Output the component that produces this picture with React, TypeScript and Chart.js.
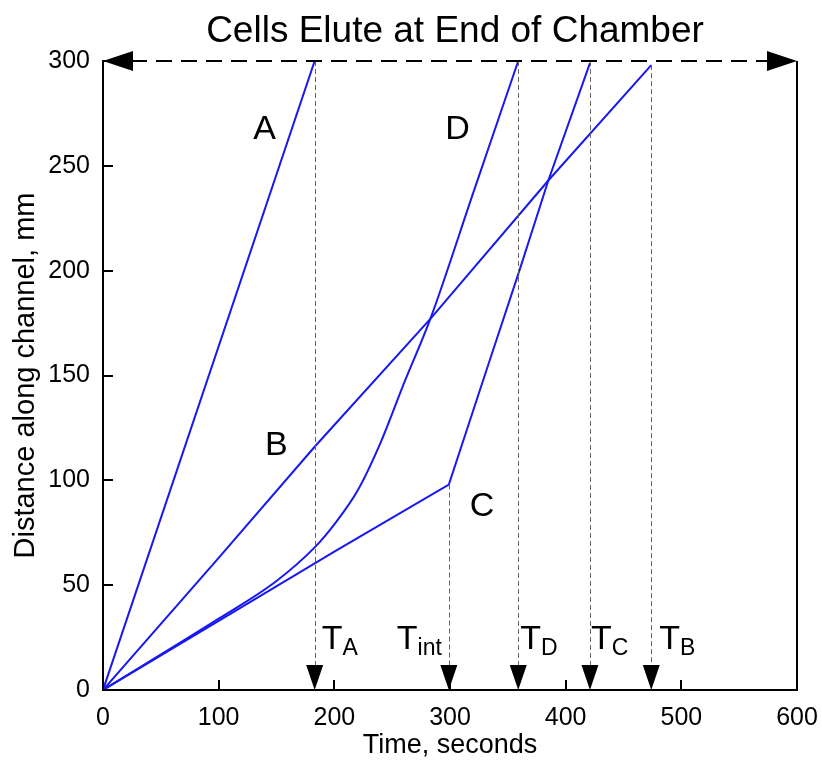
import React, { useEffect, useRef } from 'react';
import { Chart, registerables } from 'chart.js';

Chart.register(...registerables);

const titleText = 'Cells Elute at End of Chamber';
const xTitle = 'Time, seconds';
const yTitle = 'Distance along channel, mm';

const xTicks = [0, 100, 200, 300, 400, 500, 600];
const yTicks = [0, 50, 100, 150, 200, 250, 300];

const timeA = [0, 183];
const distA = [0, 300];
const timeB = [0, 100, 183, 283, 385, 474];
const distB = [0, 63, 116, 177, 243, 298];
const timeC = [0, 100, 200, 299, 330, 360, 385, 421];
const distC = [0, 33, 66, 98, 150, 200, 243, 299];
const timeD = [0, 100, 150, 183, 200, 220, 240, 260, 283, 320, 359];
const distD = [0, 34, 52, 68, 79, 95, 118, 146, 177, 237, 300];

const chamberEnd = 300;
const eventTimes = [183, 299, 359, 421, 474];
const eventStart = [300, 98, 300, 300, 298];
const eventSubs = ['A', 'int', 'D', 'C', 'B'];

const curveNames = ['A', 'B', 'C', 'D'];
// annotation anchor points (data units)
const curveLabelAt: [number, number][] = [[130, 263], [140, 112], [317, 83], [296, 263]];
const eventLabelDx = [7, -7, 2, 1, 8];

const FONT = "'Liberation Sans', Arial, Helvetica, sans-serif";
const BLUE = 'rgb(24,24,240)';

const zip = (xs: number[], ys: number[]) => xs.map((v, i) => ({ x: v, y: ys[i] }));

const annotations = {
  id: 'annotations',
  afterDatasetsDraw(chart: any) {
    const { ctx, scales } = chart;
    const x = scales.x;
    const y = scales.y;
    const y0 = y.getPixelForValue(0);
    const yTop = y.getPixelForValue(chamberEnd);
    const xL = x.getPixelForValue(0);
    const xR = x.getPixelForValue(600);
    ctx.save();

    // vertical dashed guide lines
    ctx.strokeStyle = '#666';
    ctx.lineWidth = 1;
    ctx.setLineDash([5, 3]);
    eventTimes.forEach((t, i) => {
      const px = Math.round(x.getPixelForValue(t)) + 0.5;
      ctx.beginPath();
      ctx.moveTo(px, y.getPixelForValue(eventStart[i]));
      ctx.lineTo(px, y0 - 20);
      ctx.stroke();
    });

    // top dashed line
    ctx.strokeStyle = '#000';
    ctx.lineWidth = 2;
    ctx.setLineDash([16, 9]);
    ctx.beginPath();
    ctx.moveTo(xL + 28, yTop);
    ctx.lineTo(xR - 28, yTop);
    ctx.stroke();
    ctx.setLineDash([]);

    // right border
    ctx.beginPath();
    ctx.moveTo(xR, yTop);
    ctx.lineTo(xR, y0);
    ctx.stroke();

    ctx.fillStyle = '#000';
    // side arrows
    ctx.beginPath();
    ctx.moveTo(xL, yTop);
    ctx.lineTo(xL + 30, yTop - 10);
    ctx.lineTo(xL + 30, yTop + 10);
    ctx.closePath();
    ctx.fill();
    ctx.beginPath();
    ctx.moveTo(xR, yTop);
    ctx.lineTo(xR - 30, yTop - 10);
    ctx.lineTo(xR - 30, yTop + 10);
    ctx.closePath();
    ctx.fill();

    // down arrows + labels
    eventTimes.forEach((t, i) => {
      const px = x.getPixelForValue(t);
      ctx.beginPath();
      ctx.moveTo(px, y0);
      ctx.lineTo(px - 8.5, y0 - 25);
      ctx.lineTo(px + 8.5, y0 - 25);
      ctx.closePath();
      ctx.fill();

      ctx.textBaseline = 'alphabetic';
      ctx.textAlign = 'left';
      ctx.font = `34px ${FONT}`;
      const wT = ctx.measureText('T').width;
      ctx.font = `23px ${FONT}`;
      const wS = ctx.measureText(eventSubs[i]).width;
      const dx = eventLabelDx[i];
      const start = dx < 0 ? px + dx - wT - wS : px + dx;
      ctx.font = `34px ${FONT}`;
      ctx.fillText('T', start, y0 - 41);
      ctx.font = `23px ${FONT}`;
      ctx.fillText(eventSubs[i], start + wT, y0 - 35);
    });

    // curve labels
    ctx.font = `34px ${FONT}`;
    curveNames.forEach((n, i) => {
      const [lx, ly] = curveLabelAt[i];
      ctx.fillText(n, x.getPixelForValue(lx), y.getPixelForValue(ly));
    });

    // inward ticks
    ctx.lineWidth = 2;
    xTicks.forEach((v) => {
      const px = Math.round(x.getPixelForValue(v));
      ctx.beginPath();
      ctx.moveTo(px, y0);
      ctx.lineTo(px, y0 - 10);
      ctx.stroke();
    });
    yTicks.forEach((v) => {
      const py = Math.round(y.getPixelForValue(v));
      ctx.beginPath();
      ctx.moveTo(xL, py);
      ctx.lineTo(xL + 10, py);
      ctx.stroke();
    });

    // title
    ctx.font = `37px ${FONT}`;
    ctx.textAlign = 'center';
    ctx.fillText(titleText, (chart.chartArea.left + chart.chartArea.right) / 2 + 5, 42);
    ctx.restore();
  },
};

export default function App() {
  const ref = useRef<HTMLCanvasElement>(null);
  useEffect(() => {
    if (!ref.current) return;
    const line = (xs: number[], ys: number[], smooth = false) => ({
      data: zip(xs, ys),
      showLine: true,
      borderColor: BLUE,
      backgroundColor: BLUE,
      borderWidth: 2,
      pointRadius: 0,
      tension: smooth ? 0.4 : 0,
      cubicInterpolationMode: smooth ? 'monotone' : 'default',
      fill: false,
    });
    const chart = new Chart(ref.current, {
      type: 'scatter',
      data: {
        datasets: [line(timeA, distA), line(timeB, distB), line(timeC, distC), line(timeD, distD, true)],
      },
      options: {
        responsive: false,
        animation: false,
        devicePixelRatio: 1,
        layout: { padding: { top: 61, right: 25, left: 0, bottom: 0 } },
        plugins: { legend: { display: false }, title: { display: false }, tooltip: { enabled: false } },
        scales: {
          x: {
            type: 'linear',
            min: 0,
            max: 600,
            afterFit: (s: any) => { s.height = 72; s.paddingLeft = 0; s.paddingRight = 0; },
            afterBuildTicks: (s: any) => { s.ticks = xTicks.map((v) => ({ value: v })); },
            grid: { display: false, drawTicks: false },
            border: { display: true, color: '#000', width: 2 },
            ticks: { color: '#000', font: { family: FONT, size: 25 }, padding: 13, maxRotation: 0 },
            title: { display: true, text: xTitle, color: '#000', font: { family: FONT, size: 27 }, padding: { top: 0, bottom: 0 } },
          },
          y: {
            type: 'linear',
            min: 0,
            max: 300,
            afterFit: (s: any) => { s.width = 103; s.paddingTop = 0; s.paddingBottom = 0; },
            afterBuildTicks: (s: any) => { s.ticks = yTicks.map((v) => ({ value: v })); },
            grid: { display: false, drawTicks: false },
            border: { display: true, color: '#000', width: 2 },
            ticks: { color: '#000', font: { family: FONT, size: 25 }, padding: 13 },
            title: { display: true, text: yTitle, color: '#000', font: { family: FONT, size: 29 }, padding: { top: 9, bottom: 0 } },
          },
        },
      },
      plugins: [annotations],
    } as any);
    return () => chart.destroy();
  }, []);
  return (
    <div style={{ position: 'absolute', left: 0, top: 0, width: 822, height: 762, background: '#fff' }}>
      <canvas ref={ref} width={822} height={762} style={{ display: 'block' }} />
    </div>
  );
}
